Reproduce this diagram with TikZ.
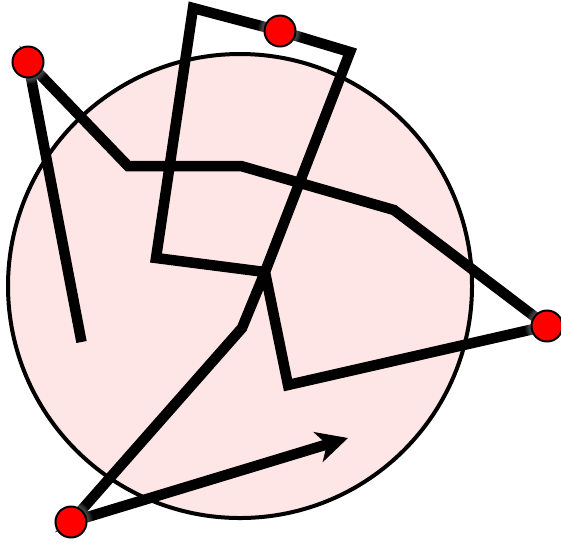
\documentclass[tikz,border=0pt]{standalone}
\usetikzlibrary{arrows.meta}
\definecolor{circpink}{RGB}{255,230,230}
\tikzset{
  bigcircle/.style={draw=black, fill=circpink, line width=4pt},
  route/.style={draw=black, line width=10.5pt, line join=miter, line cap=butt,
    -{Stealth[length=31pt, width=31pt, inset=9pt]}},
  reddot/.style={circle, draw=black, fill=red, line width=2pt, minimum size=31pt, inner sep=0pt},
  halo/.style={fill=white, fill opacity=0.06}
}
\begin{document}
\begin{tikzpicture}[x=1pt,y=-1pt]
  \useasboundingbox (0,0) rectangle (561,542);
  \node[bigcircle, circle, minimum size=464pt, inner sep=0pt] (disc) at (240,286) {};
  \coordinate (s) at (81.5,342);
  \coordinate (p1) at (28,62);
  \coordinate (a) at (128,166);
  \coordinate (b) at (241,166);
  \coordinate (c) at (394,210);
  \coordinate (p3) at (547,326);
  \coordinate (e) at (288,385);
  \coordinate (f) at (265,272);
  \coordinate (g) at (156,258);
  \coordinate (h) at (193,8);
  \coordinate (p2) at (280,31);
  \coordinate (i) at (350,52);
  \coordinate (j) at (242,328);
  \coordinate (p4) at (71,522);
  \coordinate (tip) at (348,438);
  \draw[route] (s) -- (p1) -- (a) -- (b) -- (c) -- (p3) -- (e) -- (f) -- (g) -- (h)
     -- (p2) -- (i) -- (f) -- (j) -- (p4) -- (tip);
  \foreach \p in {p1,p2,p3,p4}{
    \foreach \r in {17,18,19,20,21,22}{
      \fill[halo] (\p) circle (\r);
    }
  }
  \node[reddot] (d1) at (p1) {};
  \node[reddot] (d2) at (p2) {};
  \node[reddot] (d3) at (p3) {};
  \node[reddot] (d4) at (p4) {};
\end{tikzpicture}
\end{document}
